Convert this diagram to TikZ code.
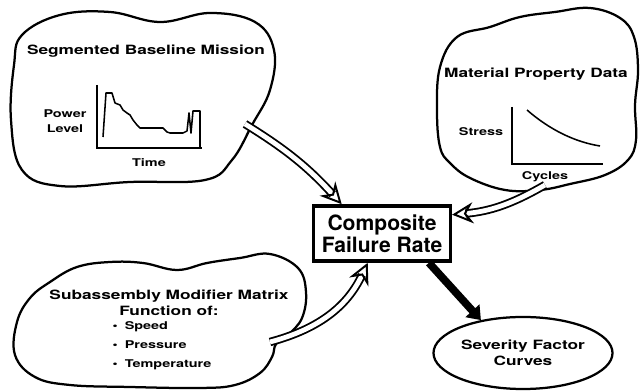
\documentclass[tikz,border=0pt]{standalone}
\usepackage{fontspec}
\newfontfamily\widefont{TeX Gyre Heros}[FakeStretch=1.35]
\newfontfamily\boxfont{TeX Gyre Heros}
\usetikzlibrary{arrows.meta, shapes.geometric}

\begin{document}
\begin{tikzpicture}[x=0.025cm, y=0.025cm,
    cloudtitle/.style={font=\widefont\bfseries\fontsize{9.1}{11}\selectfont,
                       align=center, inner sep=1pt},
    smalltxt/.style={font=\widefont\bfseries\fontsize{7.6}{10.5}\selectfont,
                     align=center, inner sep=1pt},
    cloudline/.style={line width=1.6pt, line join=round},
    plotaxis/.style={line width=1.8pt, line join=miter},
    plotcurve/.style={line width=1.1pt, line join=round},
    tailarrow/.style={line width=1.3pt, double=white, double distance=3.4pt,
                      -{Stealth[open, length=15pt, width=15pt, inset=5pt, line width=1.4pt]}},
    heavyarrow/.style={line width=5.5pt, -{Triangle[length=9pt, width=13pt]}}
]
\useasboundingbox (0,0) rectangle (642,392);

%% ── Centre box and result oval ─────────────────────────────────────────
\node[draw, line width=2.4pt, minimum width=3.42cm, minimum height=1.38cm,
      inner sep=2pt, align=center,
      font=\boxfont\bfseries\fontsize{15}{16}\selectfont] (rate) at (382,158.5)
      {Composite\\Failure Rate};
\node[ellipse, draw, line width=1.6pt, minimum width=4.4cm, minimum height=1.8cm,
      cloudtitle] (sev) at (523,39) {Severity Factor\\Curves};

%% ── Cloud texts ────────────────────────────────────────────────────────
\node[cloudtitle] (segtitle) at (146,341) {Segmented Baseline Mission};
\node[smalltxt]   (power)    at (65,271)  {Power\\Level};
\node[smalltxt]   (time)     at (149,229) {Time};
\node[cloudtitle] (mattitle) at (536,318) {Material Property Data};
\node[smalltxt]   (stress)   at (481,260) {Stress};
\node[smalltxt]   (cycles)   at (545,215) {Cycles};
\node[cloudtitle] (subtitle) at (169,89)  {Subassembly Modifier Matrix\\Function of:};
\node[smalltxt, align=left, anchor=west,
      font=\widefont\bfseries\fontsize{7.6}{13.5}\selectfont] (sublist) at (111,46)
      {\textbullet\hspace{5pt}Speed\\\textbullet\hspace{5pt}Pressure\\\textbullet\hspace{5pt}Temperature};

%% ── Cloud outlines ─────────────────────────────────────────────────────
\draw[cloudline] plot[smooth cycle, tension=0.65] coordinates {
  (22,357) (60,377) (110,380) (160,370) (210,379) (255,370) (274,342)
  (270,302) (252,267) (232,232) (205,212) (130,210) (60,206) (22,222)
  (11,272) (14,327)};
\draw[cloudline] plot[smooth cycle, tension=0.65] coordinates {
  (440,245) (437,282) (440,325) (457,355) (490,365) (520,375) (555,380)
  (590,384) (620,374) (634,355) (638,322) (635,287) (636,252) (628,232)
  (605,217) (570,208) (540,202) (505,202) (470,214) (450,229)};
\draw[cloudline] plot[smooth cycle, tension=0.65] coordinates {
  (50,110) (77,125) (110,130) (143,129) (177,122) (207,129) (240,134)
  (270,138) (298,124) (306,100) (302,74) (288,57) (276,48) (272,35)
  (260,19) (235,7) (200,4) (130,5) (70,7) (35,15) (15,37) (17,70) (30,94)};

%% ── Small plots ────────────────────────────────────────────────────────
\draw[plotaxis] (97,307) -- (97,244) -- (202,244);
\draw[plotcurve] (103,255) -- (106,299) -- (112,299) -- (115,289) -- (120,287)
  -- (123,282) -- (127,279) -- (130,277) -- (133,272) -- (137,267) -- (140,264)
  -- (163,264) -- (167,260) -- (170,259) -- (183,259) -- (187,261) -- (189,279)
  -- (191,259) -- (193,281) -- (200,281) -- (200,244);
\draw[plotaxis] (512,285) -- (512,228) -- (603,228);
\draw[plotcurve] (527,282) .. controls (550,262) and (575,250) .. (600,246);

%% ── Arrows into the box ────────────────────────────────────────────────
\coordinate (segtail) at (245,268);
\coordinate (mattail) at (545,207);
\coordinate (subtail) at (270,50);
\draw[tailarrow] (segtail) to[bend left=8] (rate.144);
\draw[tailarrow] (mattail) to[out=-150, in=5] (rate.15);
\draw[tailarrow] (subtail) to[out=15, in=-115] (rate.-116);
\draw[heavyarrow] (rate.-32) -- (sev.142);
\end{tikzpicture}
\end{document}
